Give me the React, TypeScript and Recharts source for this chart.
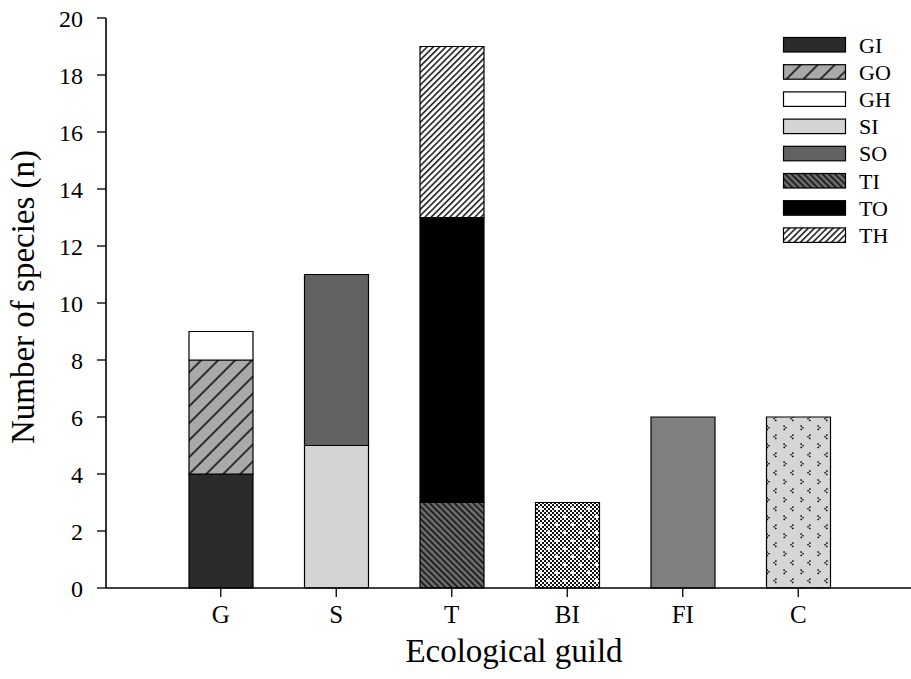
import React from 'react';
import { BarChart, Bar, XAxis, YAxis, Label } from 'recharts';

const categories = ['G', 'S', 'T', 'BI', 'FI', 'C'];
const GI = [4, 0, 0, 0, 0, 0];
const GO = [4, 0, 0, 0, 0, 0];
const GH = [1, 0, 0, 0, 0, 0];
const SI = [0, 5, 0, 0, 0, 0];
const SO = [0, 6, 0, 0, 0, 0];
const TI = [0, 0, 3, 0, 0, 0];
const TO = [0, 0, 10, 0, 0, 0];
const TH = [0, 0, 6, 0, 0, 0];
const BI = [0, 0, 0, 3, 0, 0];
const FI = [0, 0, 0, 0, 6, 0];
const C = [0, 0, 0, 0, 0, 6];
const yTicks = [0, 2, 4, 6, 8, 10, 12, 14, 16, 18, 20];
const legendNames = ['GI', 'GO', 'GH', 'SI', 'SO', 'TI', 'TO', 'TH'];

const seriesValues: Record<string, number[]> = { GI, GO, GH, SI, SO, TI, TO, TH, BI, FI, C };
const seriesFill: Record<string, string> = {
  GI: '#2b2b2b',
  GO: 'url(#pGO)',
  GH: '#ffffff',
  SI: '#d4d4d4',
  SO: '#626262',
  TI: 'url(#pTI)',
  TO: '#000000',
  TH: 'url(#pTH)',
  BI: 'url(#pBI)',
  FI: '#808080',
  C: 'url(#pC)',
};
const seriesOrder = ['GI', 'GO', 'GH', 'SI', 'SO', 'TI', 'TO', 'TH', 'BI', 'FI', 'C'];

const data = categories.map((cat, i) => {
  const row: Record<string, string | number> = { name: cat };
  seriesOrder.forEach((k) => {
    row[k] = seriesValues[k][i];
  });
  return row;
});

const FONT = '"Liberation Serif", "Times New Roman", serif';

const Patterns = () => (
  <svg width={0} height={0} style={{ position: 'absolute' }}>
    <defs>
      <pattern id="pGO" width={12} height={12} patternUnits="userSpaceOnUse" patternTransform="rotate(45)">
        <rect width={12} height={12} fill="#a9a9a9" />
        <line x1={1} y1={0} x2={1} y2={12} stroke="#111" strokeWidth={1.6} />
      </pattern>
      <pattern id="pTI" width={4.4} height={4.4} patternUnits="userSpaceOnUse" patternTransform="rotate(-45)">
        <rect width={4.4} height={4.4} fill="#6a6a6a" />
        <line x1={0.8} y1={0} x2={0.8} y2={4.4} stroke="#111" strokeWidth={1.5} />
      </pattern>
      <pattern id="pTH" width={4.4} height={4.4} patternUnits="userSpaceOnUse" patternTransform="rotate(45)">
        <rect width={4.4} height={4.4} fill="#ffffff" />
        <line x1={0.8} y1={0} x2={0.8} y2={4.4} stroke="#111" strokeWidth={1.5} />
      </pattern>
      <pattern id="pChk" width={4} height={4} patternUnits="userSpaceOnUse">
        <rect width={4} height={4} fill="#ffffff" />
        <rect x={0} y={0} width={2} height={2} fill="#111" />
        <rect x={2} y={2} width={2} height={2} fill="#111" />
      </pattern>
      <pattern id="pBI" width={16} height={16} patternUnits="userSpaceOnUse">
        <rect width={16} height={16} fill="url(#pChk)" />
        <rect x={3} y={3} width={3} height={3} fill="#fff" />
        <rect x={11} y={11} width={3} height={3} fill="#fff" />
      </pattern>
      <pattern id="pC" width={17} height={18} patternUnits="userSpaceOnUse">
        <rect width={17} height={18} fill="#d6d6d6" />
        <polyline points="11.5,2.5 9,4.8 11.5,7.1" fill="none" stroke="#111" strokeWidth={1.5} strokeDasharray="1.6 0.9" />
        <polyline points="1.5,11.5 4,13.8 1.5,16.1" fill="none" stroke="#111" strokeWidth={1.5} strokeDasharray="1.6 0.9" />
      </pattern>
    </defs>
  </svg>
);

const LegendBox = () => (
  <svg
    width={126}
    height={240}
    style={{ position: 'absolute', left: 783, top: 37, display: 'block', overflow: 'visible' }}
  >
    {legendNames.map((n, i) => (
      <g key={n} transform={`translate(0, ${i * 27.2})`}>
        <rect x={0.5} y={0.5} width={62} height={14.5} fill={seriesFill[n]} stroke="#000" strokeWidth={1.2} />
        <text x={76} y={15.5} fontFamily={FONT} fontSize={22} fill="#000">
          {n}
        </text>
      </g>
    ))}
  </svg>
);

const YTitle = () => (
  <text
    x={34}
    y={297}
    transform="rotate(-90, 34, 297)"
    textAnchor="middle"
    fontFamily={FONT}
    fontSize={33}
    fill="#000"
  >
    Number of species (n)
  </text>
);

const XTitle = () => (
  <text x={514} y={662} textAnchor="middle" fontFamily={FONT} fontSize={33} fill="#000">
    Ecological guild
  </text>
);

export default function App() {
  return (
    <div style={{ position: 'absolute', left: 0, top: 0, width: 911, height: 679, background: '#fff' }}>
      <Patterns />
      <BarChart width={911} height={679} data={data} margin={{ top: 18, right: 0, bottom: 0, left: 0 }} barSize={64}>
        <XAxis
          dataKey="name"
          height={91}
          padding={{ left: 57, right: 55 }}
          tickSize={9}
          tickMargin={8}
          axisLine={{ stroke: '#000', strokeWidth: 1.6 }}
          tickLine={{ stroke: '#000', strokeWidth: 1.3 }}
          tick={{ fill: '#000', fontFamily: FONT, fontSize: 25 }}
          interval={0}
        >
          <Label content={<XTitle />} />
        </XAxis>
        <YAxis
          width={106}
          domain={[0, 20]}
          ticks={yTicks}
          interval={0}
          tickSize={9}
          tickMargin={14}
          axisLine={{ stroke: '#000', strokeWidth: 1.6 }}
          tickLine={{ stroke: '#000', strokeWidth: 1.3 }}
          tick={{ fill: '#000', fontFamily: FONT, fontSize: 24 }}
        >
          <Label content={<YTitle />} />
        </YAxis>
        {seriesOrder.map((k) => (
          <Bar
            key={k}
            dataKey={k}
            stackId="a"
            fill={seriesFill[k]}
            stroke="#000"
            strokeWidth={1.2}
            isAnimationActive={false}
          />
        ))}
      </BarChart>
      <LegendBox />
    </div>
  );
}
